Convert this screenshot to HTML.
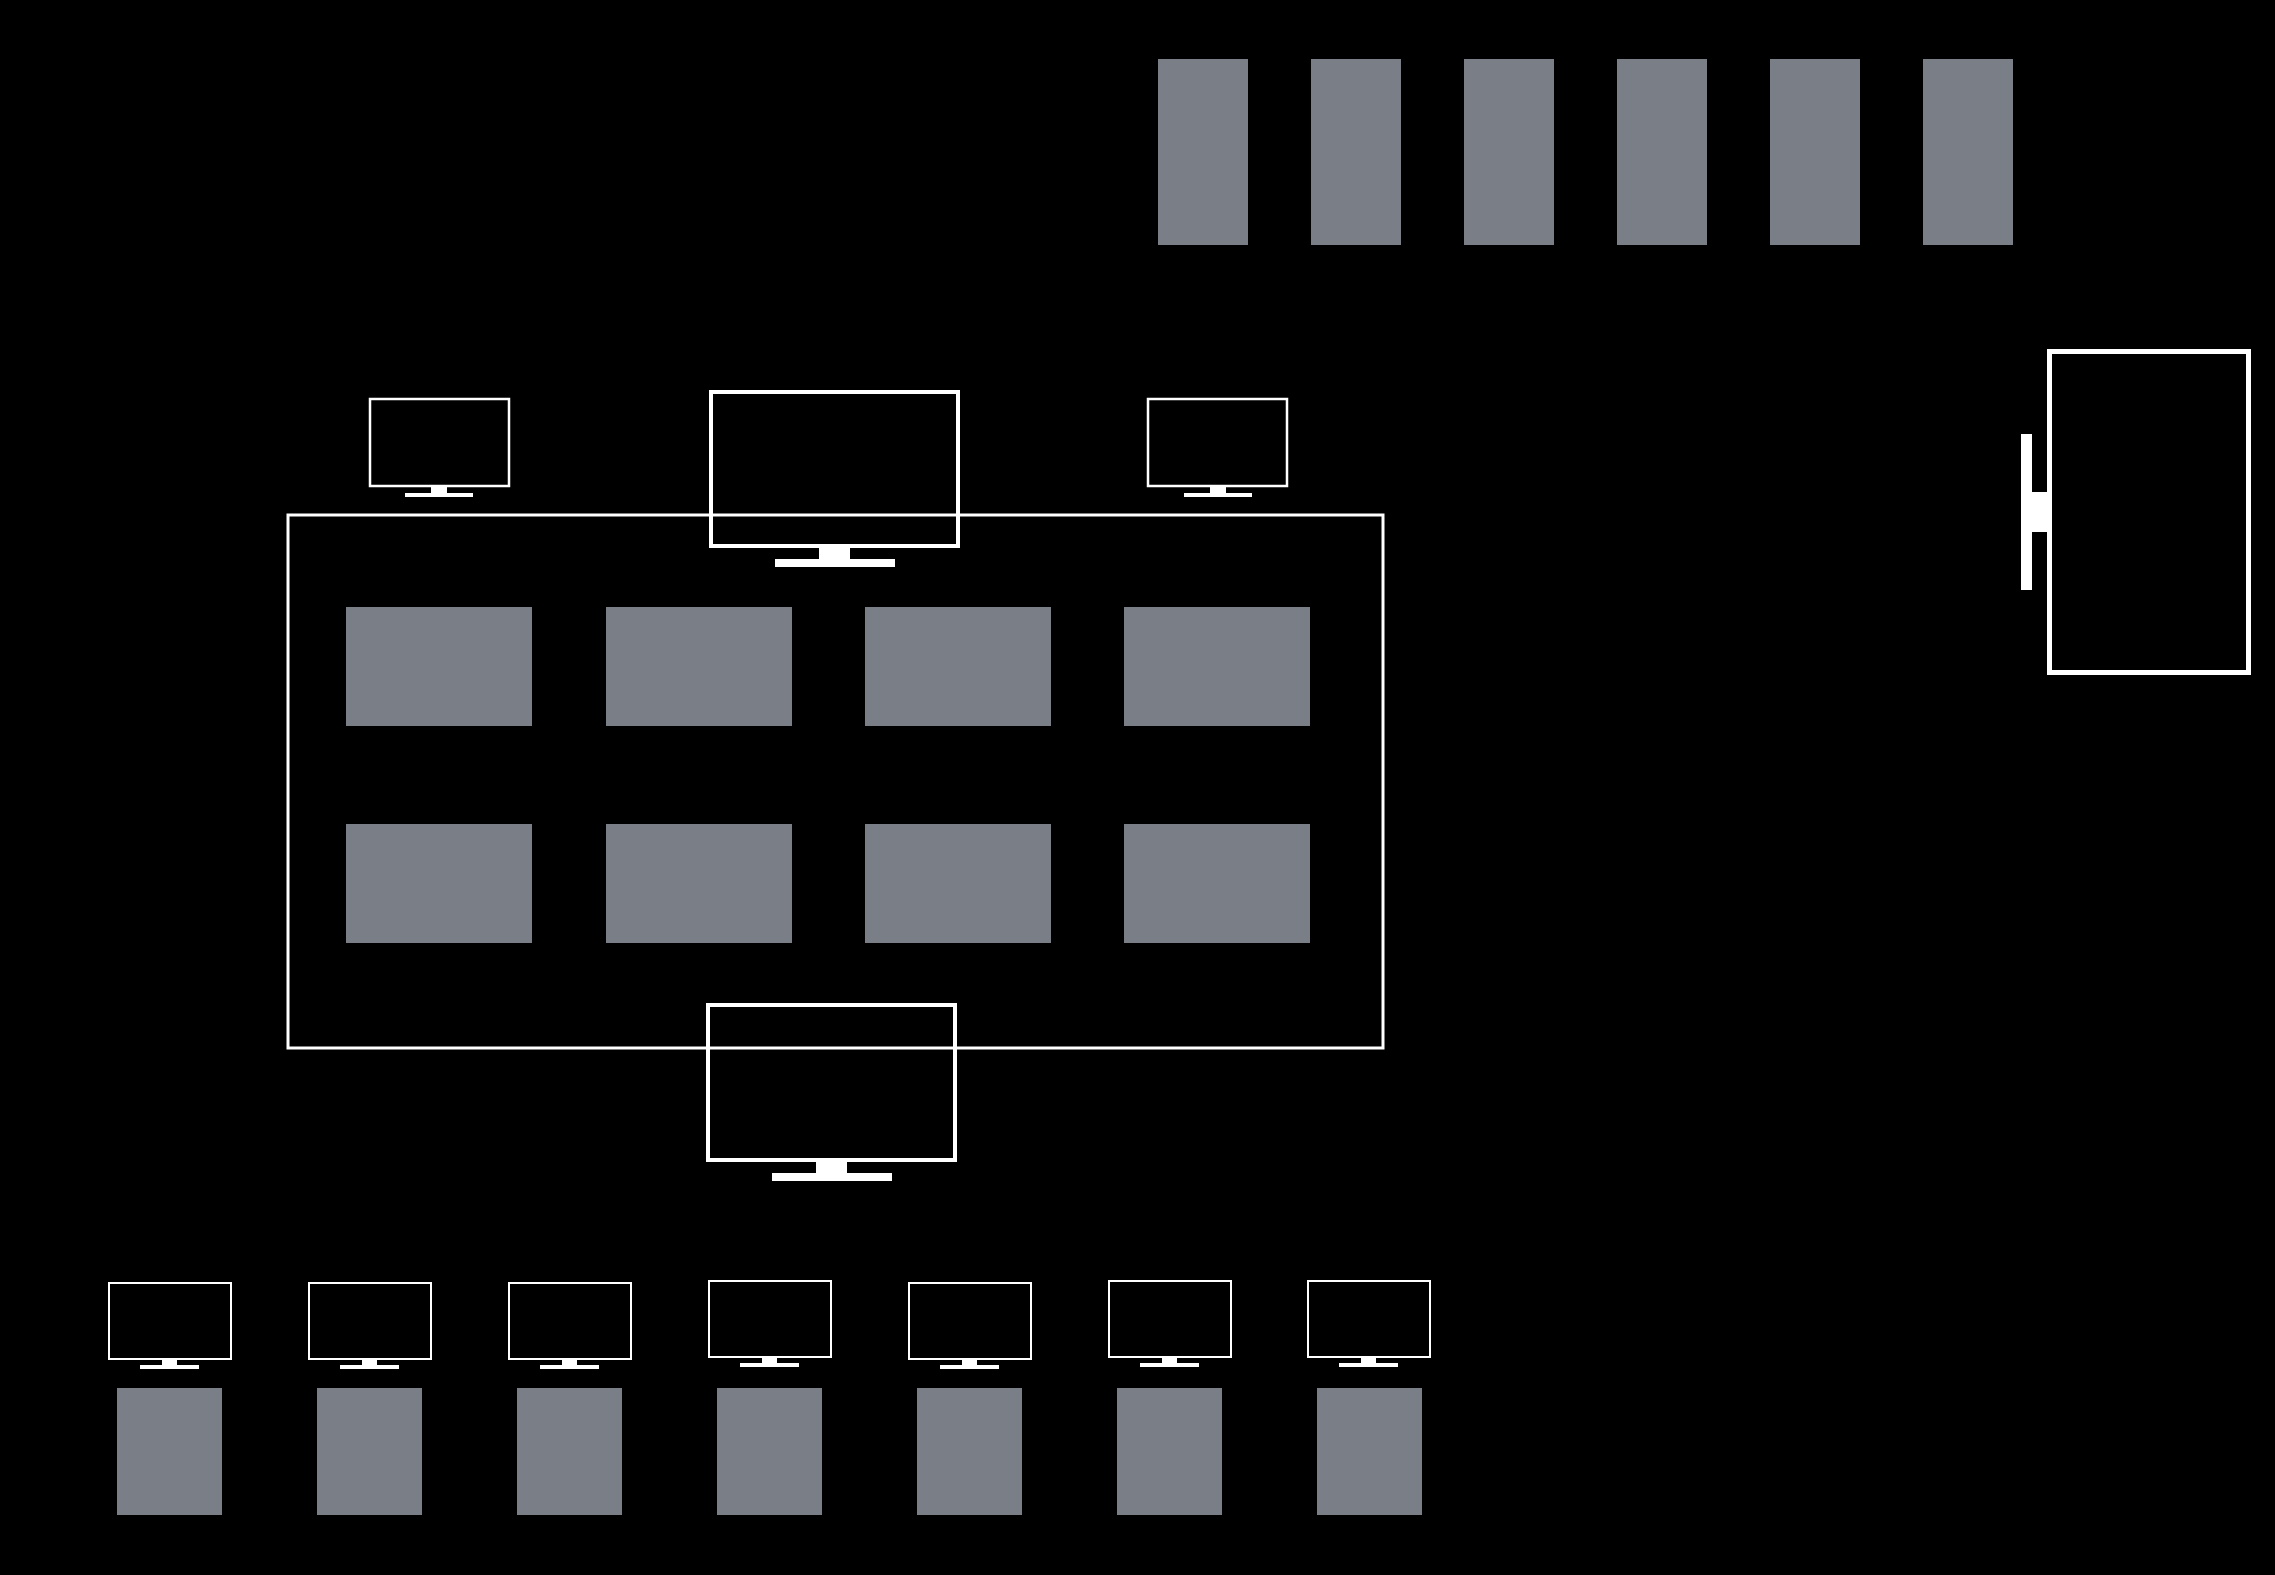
<!DOCTYPE html>
<html><head><meta charset="utf-8"><style>html,body{margin:0;padding:0;background:#000;}svg{display:block}</style></head>
<body>
<svg width="2275" height="1575" viewBox="0 0 2275 1575" xmlns="http://www.w3.org/2000/svg">
<rect width="2275" height="1575" fill="#000"/>
<g fill="#7a7e86">
<rect x="1158" y="59" width="90" height="186"/>
<rect x="1311" y="59" width="90" height="186"/>
<rect x="1464" y="59" width="90" height="186"/>
<rect x="1617" y="59" width="90" height="186"/>
<rect x="1770" y="59" width="90" height="186"/>
<rect x="1923" y="59" width="90" height="186"/>
<rect x="346" y="607" width="186" height="119"/>
<rect x="606" y="607" width="186" height="119"/>
<rect x="865" y="607" width="186" height="119"/>
<rect x="1124" y="607" width="186" height="119"/>
<rect x="346" y="824" width="186" height="119"/>
<rect x="606" y="824" width="186" height="119"/>
<rect x="865" y="824" width="186" height="119"/>
<rect x="1124" y="824" width="186" height="119"/>
<rect x="117" y="1388" width="105" height="127"/>
<rect x="317" y="1388" width="105" height="127"/>
<rect x="517" y="1388" width="105" height="127"/>
<rect x="717" y="1388" width="105" height="127"/>
<rect x="917" y="1388" width="105" height="127"/>
<rect x="1117" y="1388" width="105" height="127"/>
<rect x="1317" y="1388" width="105" height="127"/>
</g>
<g fill="none" stroke="#fff">
<rect x="288" y="515" width="1095" height="533" stroke-width="3"/>
<rect x="711" y="392" width="247" height="154" stroke-width="4"/>
<rect x="708" y="1005" width="247" height="155" stroke-width="4"/>
<rect x="370" y="399" width="139" height="87" stroke-width="2.5"/>
<rect x="1148" y="399" width="139" height="87" stroke-width="2.5"/>
<rect x="2049.5" y="351.5" width="199" height="321" stroke-width="5"/>
</g>
<g fill="#fff">
<rect x="819" y="546" width="31" height="13"/><rect x="775" y="559" width="120" height="8"/>
<rect x="816" y="1160" width="31" height="13"/><rect x="772" y="1173" width="120" height="8"/>
<rect x="431" y="486" width="16" height="7"/><rect x="405" y="493" width="68" height="4"/>
<rect x="1210" y="486" width="16" height="7"/><rect x="1184" y="493" width="68" height="4"/>
<rect x="2021" y="434" width="11" height="156"/><rect x="2032" y="492" width="16" height="40"/>
</g>
<g id="bm">
<rect x="109" y="1283" width="122" height="76" fill="none" stroke="#fff" stroke-width="2"/>
<rect x="162" y="1359" width="15" height="6" fill="#fff"/>
<rect x="140" y="1365" width="59" height="4" fill="#fff"/>
</g>
<use href="#bm" x="200" y="0"/>
<use href="#bm" x="400" y="0"/>
<use href="#bm" x="600" y="-2"/>
<use href="#bm" x="800" y="0"/>
<use href="#bm" x="1000" y="-2"/>
<use href="#bm" x="1199" y="-2"/>
</svg>
</body></html>
